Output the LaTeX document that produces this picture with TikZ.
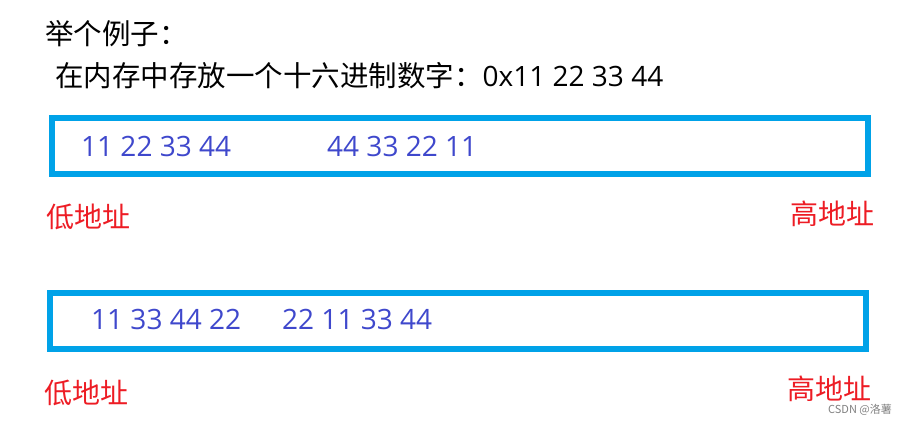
\documentclass[tikz,border=0pt]{standalone}
\usepackage{fontspec}
\setmainfont{Noto Sans CJK SC}
\newfontfamily\numfont{Open Sans}
\definecolor{boxblue}{RGB}{0,162,232}
\definecolor{numblue}{RGB}{63,72,204}
\definecolor{addrred}{RGB}{237,28,36}

\begin{document}
\begin{tikzpicture}[
    x=1pt, y=-1pt,
    title/.style={anchor=west, inner sep=0pt, font=\fontsize{28.5}{28.5}\selectfont},
    memory/.style={draw=boxblue, line width=5.5pt, minimum width=816pt,
        minimum height=56pt, inner sep=0pt},
    bytes/.style={anchor=west, inner sep=0pt, text=numblue,
        font=\numfont\fontsize{28}{28}\selectfont},
    addr/.style={anchor=west, inner sep=0pt, text=addrred,
        font=\fontsize{28}{28}\selectfont}
]
    \useasboundingbox (0,0) rectangle (911,421);
    \node[title] (ex) at (45,34) {举个例子：};
    \node[title] (num) at (55,76) {在内存中存放一个十六进制数字：{\numfont\fontsize{28}{28}\selectfont 0x11 22 33 44}};

    \node[memory] (mem1) at (460,146) {};
    \node[bytes] (big) at (81,146) {11 22 33 44};
    \node[bytes] (little) at (327,146) {44 33 22 11};
    \node[addr] (low1) at (46,217) {低地址};
    \node[addr] (high1) at (790,214) {高地址};

    \node[memory] (mem2) at (458,321) {};
    \node[bytes] (mixa) at (91,319) {11 33 44 22};
    \node[bytes] (mixb) at (282,319) {22 11 33 44};
    \node[addr] (low2) at (44,393) {低地址};
    \node[addr] (high2) at (787,389) {高地址};

    \node[anchor=west, inner sep=0pt, text=gray, font=\fontsize{11}{11}\selectfont]
        (mark) at (828,410) {CSDN @洛薯};
\end{tikzpicture}
\end{document}
